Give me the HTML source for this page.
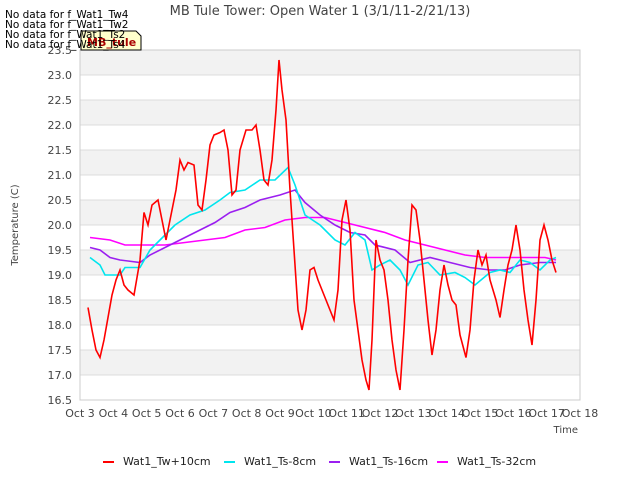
<!DOCTYPE html>
<html><head><meta charset="utf-8"><style>
body{margin:0;background:#fff;font-family:"Liberation Sans","DejaVu Sans",sans-serif}
</style></head><body>
<svg id="c" width="640" height="480" xmlns="http://www.w3.org/2000/svg" font-family="DejaVu Sans, Liberation Sans, sans-serif"></svg>
<script>
const redDays=[3.24,3.36,3.48,3.6,3.72,3.84,3.96,4.08,4.2,4.32,4.44,4.62,4.8,4.92,5.04,5.16,5.34,5.46,5.58,5.7,5.88,6.0,6.12,6.24,6.42,6.54,6.66,6.78,6.9,7.02,7.2,7.32,7.44,7.56,7.68,7.8,7.98,8.16,8.28,8.4,8.52,8.64,8.76,8.88,8.97,9.06,9.18,9.3,9.42,9.54,9.66,9.78,9.9,10.02,10.14,10.26,10.38,10.5,10.62,10.74,10.86,10.98,11.1,11.22,11.34,11.46,11.58,11.67,11.76,11.88,12.0,12.12,12.24,12.36,12.48,12.6,12.72,12.84,12.96,13.08,13.2,13.32,13.44,13.56,13.68,13.8,13.92,14.04,14.16,14.28,14.4,14.58,14.7,14.82,14.94,15.06,15.18,15.3,15.48,15.6,15.72,15.84,15.96,16.08,16.2,16.32,16.44,16.56,16.68,16.8,16.92,17.04,17.16,17.28];
const redVals=[18.35,17.9,17.5,17.35,17.7,18.15,18.6,18.9,19.1,18.8,18.7,18.6,19.3,20.25,20.0,20.4,20.5,20.1,19.7,20.1,20.7,21.3,21.1,21.25,21.2,20.4,20.3,20.9,21.6,21.8,21.85,21.9,21.5,20.6,20.7,21.5,21.9,21.9,22.0,21.5,20.9,20.8,21.3,22.3,23.3,22.7,22.1,20.7,19.5,18.3,17.9,18.3,19.1,19.15,18.9,18.7,18.5,18.3,18.1,18.7,20.1,20.5,19.9,18.5,17.9,17.3,16.9,16.7,17.7,19.7,19.3,19.1,18.5,17.7,17.1,16.7,17.9,19.3,20.4,20.3,19.7,18.9,18.1,17.4,17.9,18.7,19.2,18.8,18.5,18.4,17.8,17.35,17.9,18.9,19.5,19.2,19.4,18.9,18.5,18.15,18.7,19.2,19.5,20.0,19.5,18.7,18.1,17.6,18.5,19.7,20.0,19.7,19.3,19.05];
const cyanDays=[3.3,3.6,3.75,4.2,4.35,4.8,5.1,5.4,5.85,6.3,6.75,7.2,7.5,7.95,8.4,8.85,9.24,9.45,9.75,10.2,10.65,10.95,11.25,11.55,11.76,12.0,12.3,12.6,12.84,13.14,13.44,13.8,14.25,14.55,14.85,15.3,15.6,15.9,16.2,16.5,16.8,17.1,17.28];
const cyanVals=[19.35,19.2,19.0,19.0,19.15,19.15,19.5,19.7,20.0,20.2,20.3,20.5,20.65,20.7,20.9,20.9,21.15,20.8,20.2,20.0,19.7,19.6,19.85,19.7,19.1,19.2,19.3,19.1,18.8,19.2,19.25,19.0,19.05,18.95,18.8,19.05,19.1,19.05,19.3,19.25,19.1,19.3,19.35];
const purpleDays=[3.3,3.6,3.9,4.2,4.8,5.1,5.7,6.15,6.6,7.05,7.5,7.95,8.4,9.0,9.45,9.75,10.2,10.65,11.1,11.55,11.85,12.45,12.9,13.5,14.1,14.7,15.3,15.75,16.2,16.8,17.28];
const purpleVals=[19.55,19.5,19.35,19.3,19.25,19.4,19.6,19.75,19.9,20.05,20.25,20.35,20.5,20.6,20.7,20.45,20.2,20.0,19.85,19.8,19.6,19.5,19.25,19.35,19.25,19.15,19.1,19.1,19.2,19.25,19.25];
const magDays=[3.3,3.9,4.35,5.1,5.55,6.15,6.75,7.35,7.95,8.55,9.15,9.75,10.35,10.95,11.55,12.15,12.75,13.35,13.95,14.55,15.15,15.75,16.35,16.95,17.28];
const magVals=[19.75,19.7,19.6,19.6,19.6,19.65,19.7,19.75,19.9,19.95,20.1,20.15,20.15,20.05,19.95,19.85,19.7,19.6,19.5,19.4,19.35,19.35,19.35,19.35,19.3];
const yTicks=[16.5,17.0,17.5,18.0,18.5,19.0,19.5,20.0,20.5,21.0,21.5,22.0,22.5,23.0,23.5];
const xTicks=[3,4,5,6,7,8,9,10,11,12,13,14,15,16,17,18];
const L=80,R=580,T=50,B=400;
const X=d=>L+(d-3)/15*(R-L);
const Y=v=>B-(v-16.5)/7*(B-T);
const svg=document.getElementById('c');
const NS='http://www.w3.org/2000/svg';
function mk(tag,at,txt){const e=document.createElementNS(NS,tag);for(const k in at)e.setAttribute(k,at[k]);if(txt!==undefined)e.textContent=txt;svg.appendChild(e);return e;}
let e;
e=mk('rect',{x:L,y:T,width:R-L,height:B-T,fill:'#fff'});


for(let i=0;i<yTicks.length-1;i++){
 if((yTicks.length-2-i)%2===0){
  e=mk('rect',{x:L,y:Y(yTicks[i+1]),width:R-L,height:Y(yTicks[i])-Y(yTicks[i+1]),fill:'#f2f2f2'});
  
  
 }
}
yTicks.forEach(v=>{
 e=mk('line',{x1:L,x2:R,y1:Y(v),y2:Y(v),stroke:'#dcdcdc','stroke-width':1});
 
 
 e=mk('text',{x:L-8,y:Y(v)+4,'text-anchor':'end','font-size':11,fill:'#444'},v.toFixed(1));
 
 
});
e=mk('rect',{x:L,y:T,width:R-L,height:B-T,fill:'none',stroke:'#ccc'});


xTicks.forEach(d=>{
 e=mk('text',{x:X(d),y:B+17,'text-anchor':'middle','font-size':11,fill:'#444'},'Oct '+d);
 
 
});
function series(days,vals,color,name){
 const p=days.map((d,i)=>X(d).toFixed(1)+','+Y(vals[i]).toFixed(1)).join(' ');
 const el=mk('polyline',{points:p,fill:'none',stroke:color,'stroke-width':1.6});
 
 
}
series(magDays,magVals,'#ff00ff','series-ts-32cm');
series(purpleDays,purpleVals,'#9b1ff0','series-ts-16cm');
series(cyanDays,cyanVals,'#00e5ee','series-ts-8cm');
series(redDays,redVals,'#ff0000','series-tw-10cm');
e=mk('text',{x:320,y:15,'text-anchor':'middle','font-size':13,fill:'#444'},'MB Tule Tower: Open Water 1 (3/1/11-2/21/13)');


e=mk('text',{x:18,y:225,'text-anchor':'middle','font-size':10,fill:'#444',transform:'rotate(-90 18 225)'},'Temperature (C)');


e=mk('text',{x:578,y:433,'text-anchor':'end','font-size':10,fill:'#444'},'Time');


e=mk('path',{d:'M81,31 H136 L141,36 V50 H81 Z',fill:'#ffffcc',stroke:'#000','stroke-width':1});


e=mk('text',{x:87,y:46,'font-size':11,'font-weight':'bold',fill:'#aa0000'},'MB_tule');


['f_Wat1_Tw4','f_Wat1_Tw2','f_Wat1_Ts2','f_Wat1_Ts4'].forEach((n,i)=>{
 const t=mk('text',{x:5,y:18+i*10,'font-size':10.5,fill:'#000'},'No data for '+n);
 
 
});
const legNames=['Wat1_Tw+10cm','Wat1_Ts-8cm','Wat1_Ts-16cm','Wat1_Ts-32cm'];
const legColors=['#ff0000','#00e5ee','#9b1ff0','#ff00ff'];
const legX=[103,224,329,437];
legNames.forEach((n,i)=>{
 const l=mk('line',{x1:legX[i],x2:legX[i]+11,y1:462,y2:462,stroke:legColors[i],'stroke-width':2});
 
 
 const t=mk('text',{x:legX[i]+20,y:465,'font-size':11,fill:'#222'},n);
 
 
});
</script>
</body></html>
